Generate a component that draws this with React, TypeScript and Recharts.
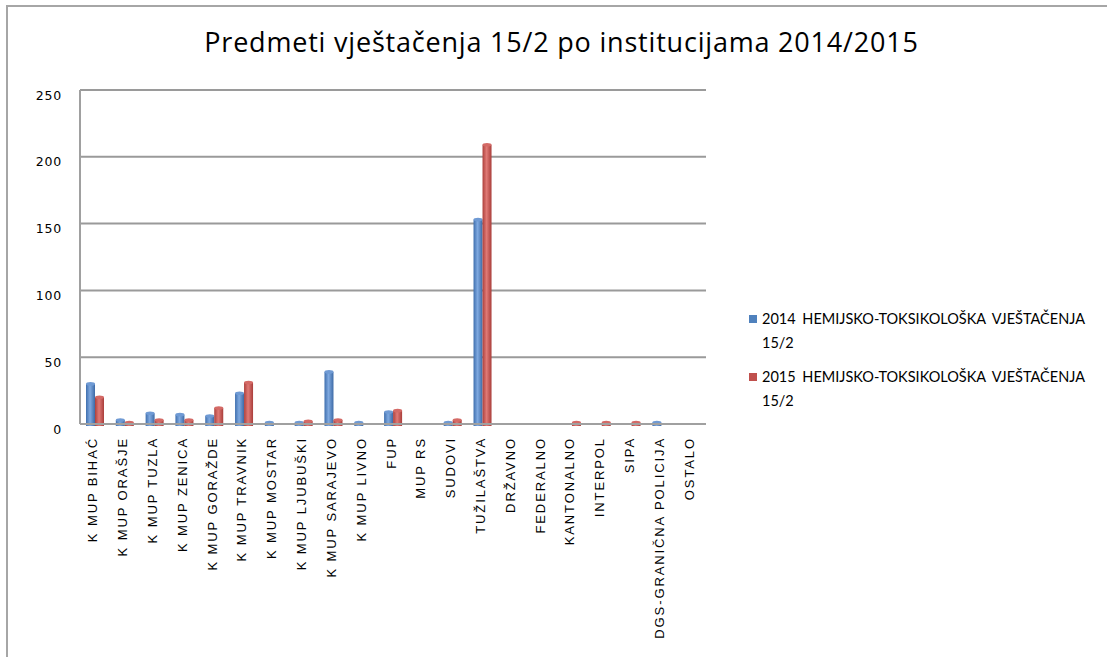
import React from 'react';
import { BarChart, Bar, XAxis, YAxis, CartesianGrid, Legend } from 'recharts';

const categories = [
  'K MUP BIHAĆ', 'K MUP ORAŠJE', 'K MUP TUZLA', 'K MUP ZENICA', 'K MUP GORAŽDE',
  'K MUP TRAVNIK', 'K MUP MOSTAR', 'K MUP LJUBUŠKI', 'K MUP SARAJEVO', 'K MUP LIVNO',
  'FUP', 'MUP RS', 'SUDOVI', 'TUŽILAŠTVA', 'DRŽAVNO', 'FEDERALNO', 'KANTONALNO',
  'INTERPOL', 'SIPA', 'DGS-GRANIČNA  POLICIJA', 'OSTALO',
];
const values2014 = [30, 3, 8, 7, 6, 23, 1, 1, 39, 1, 9, 0, 1, 153, 0, 0, 0, 0, 0, 1, 0];
const values2015 = [20, 1, 3, 3, 12, 31, 0, 2, 3, 0, 10, 0, 3, 209, 0, 0, 1, 1, 1, 0, 0];
const yTicks = [0, 50, 100, 150, 200, 250];
const seriesNames = [
  '2014 HEMIJSKO-TOKSIKOLOŠKA VJEŠTAČENJA 15/2',
  '2015 HEMIJSKO-TOKSIKOLOŠKA VJEŠTAČENJA 15/2',
];
const seriesColors = ['#4F81BD', '#C0504D'];

const data = categories.map((c, i) => ({ name: c, a: values2014[i], b: values2015[i] }));

const XTick = (props: any) => {
  const { x, y, payload } = props;
  return (
    <text
      x={x - 2}
      y={y}
      transform={`rotate(-90 ${x - 2} ${y})`}
      textAnchor="end"
      dominantBaseline="central"
      fontFamily="'Liberation Sans', Arial, sans-serif"
      fontSize={13}
      letterSpacing={1.9}
      fill="#000"
    >
      {payload.value}
    </text>
  );
};

const YTick = (props: any) => {
  const { x, y, payload } = props;
  return (
    <text
      x={x}
      y={y + 5}
      textAnchor="end"
      dominantBaseline="central"
      fontFamily="'DejaVu Sans', sans-serif"
      fontSize={12.5}
      letterSpacing={0.8}
      fill="#000"
    >
      {payload.value}
    </text>
  );
};

const makeShape = (id: string, cap: string) => (props: any) => {
  const { x, y, width, height } = props;
  if (height == null || height <= 0) return <g />;
  return (
    <g>
      <rect x={x} y={y} width={width} height={height + 2} fill={`url(#${id})`} />
      <ellipse cx={x + width / 2} cy={y} rx={width / 2} ry={1.8} fill={cap} />
    </g>
  );
};

const LegendContent = () => (
  <div style={{ fontFamily: 'Lato, sans-serif', fontSize: 14.5, color: '#000', textAlign: 'left' }}>
    {seriesNames.map((n, i) => (
      <div key={n} style={{ display: 'flex', alignItems: 'flex-start', marginBottom: 10 }}>
        <div
          style={{
            width: 8,
            height: 8,
            background: seriesColors[i],
            marginTop: 8,
            marginRight: 5,
            flex: '0 0 auto',
          }}
        />
        <div style={{ width: 345, lineHeight: '24px', wordSpacing: 3 }}>{n}</div>
      </div>
    ))}
  </div>
);

export default function App() {
  return (
    <div style={{ position: 'absolute', left: 0, top: 0, width: 1107, height: 657, background: '#fff', overflow: 'hidden' }}>
      <div
        style={{
          position: 'absolute',
          left: 6,
          top: 5,
          width: 1120,
          height: 700,
          border: '2px solid #a6a6a6',
          boxSizing: 'border-box',
        }}
      />
      <div
        style={{
          position: 'absolute',
          left: 0,
          width: 1123,
          top: 22,
          textAlign: 'center',
          fontFamily: "'Open Sans', sans-serif",
          fontSize: 27,
          letterSpacing: 0.8,
          color: '#000',
          lineHeight: '40px',
        }}
      >
        Predmeti vještačenja 15/2 po institucijama 2014/2015
      </div>
      <div style={{ position: 'absolute', left: 0, top: 0 }}>
        <BarChart
          width={1107}
          height={657}
          data={data}
          margin={{ top: 90, right: 401, left: 0, bottom: 0 }}
          barGap={0}
          barSize={9}
        >
          <defs>
            <linearGradient id="gBlue" x1="0" y1="0" x2="1" y2="0">
              <stop offset="0%" stopColor="#3f6fae" />
              <stop offset="45%" stopColor="#7fa9e0" />
              <stop offset="100%" stopColor="#3d6aa6" />
            </linearGradient>
            <linearGradient id="gRed" x1="0" y1="0" x2="1" y2="0">
              <stop offset="0%" stopColor="#ad403c" />
              <stop offset="45%" stopColor="#e07a76" />
              <stop offset="100%" stopColor="#a93d3a" />
            </linearGradient>
          </defs>
          <CartesianGrid vertical={false} stroke="#9a9a9a" strokeWidth={2} />
          <XAxis
            dataKey="name"
            interval={0}
            tickLine={false}
            tickSize={0}
            tickMargin={13}
            axisLine={{ stroke: '#a0a0a0', strokeWidth: 2 }}
            tick={<XTick />}
            height={233}
          />
          <YAxis
            domain={[0, 250]}
            ticks={yTicks}
            width={80}
            tickLine={false}
            tickSize={0}
            tickMargin={18}
            axisLine={{ stroke: '#a0a0a0', strokeWidth: 2 }}
            tick={<YTick />}
            interval={0}
          />
          <Legend
            layout="vertical"
            align="center"
            verticalAlign="middle"
            content={<LegendContent />}
            wrapperStyle={{ position: 'absolute', left: 749, top: 307, width: 360, right: 'auto', bottom: 'auto' }}
          />
          <Bar dataKey="a" name={seriesNames[0]} fill={seriesColors[0]} shape={makeShape('gBlue', '#6f9ad4')} isAnimationActive={false} />
          <Bar dataKey="b" name={seriesNames[1]} fill={seriesColors[1]} shape={makeShape('gRed', '#d46a66')} isAnimationActive={false} />
        </BarChart>
      </div>
    </div>
  );
}
